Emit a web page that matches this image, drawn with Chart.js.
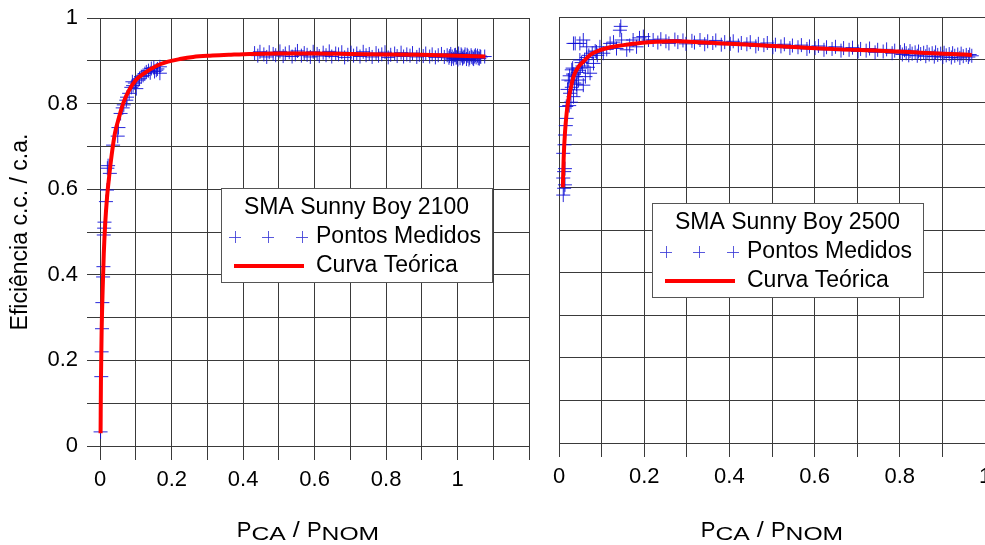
<!DOCTYPE html>
<html>
<head>
<meta charset="utf-8">
<script src="https://cdn.jsdelivr.net/npm/chart.js"></script>
<style>
  html, body { margin: 0; padding: 0; background: #fff; overflow: hidden; width: 985px; height: 545px; }
  canvas { position: absolute; top: 0; }
  #left-chart { left: 0; }
  #right-chart { left: 545px; }
</style>
</head>
<body>
<canvas id="left-chart" width="540" height="545"></canvas>
<canvas id="right-chart" width="460" height="545"></canvas>
<script>
// textos
const yTitle = "Eficiência c.c. / c.a.";
const leftTitle = "SMA Sunny Boy 2100";
const rightTitle = "SMA Sunny Boy 2500";
const pointsLabel = "Pontos Medidos";
const curveLabel = "Curva Teórica";

// ticks
const yTicks = [0, 0.1, 0.2, 0.3, 0.4, 0.5, 0.6, 0.7, 0.8, 0.9, 1];
const leftXTicks = [0, 0.1, 0.2, 0.3, 0.4, 0.5, 0.6, 0.7, 0.8, 0.9, 1, 1.1, 1.2];
const rightXTicks = [0, 0.1, 0.2, 0.3, 0.4, 0.5, 0.6, 0.7, 0.8, 0.9, 1];
const xLabelTicks = [0, 0.2, 0.4, 0.6, 0.8, 1];

// SMA Sunny Boy 2100 - pontos medidos
const leftPointsX = [
  0.001, 0.003, 0.004, 0.005, 0.006, 0.008, 0.009, 0.010, 0.011, 0.012,
  0.016, 0.019, 0.027, 0.020, 0.022, 0.036, 0.049, 0.051, 0.057, 0.063,
  0.066, 0.073, 0.075, 0.081, 0.087, 0.090, 0.092, 0.097, 0.101, 0.106,
  0.110, 0.115, 0.120, 0.125, 0.129, 0.135, 0.140, 0.143, 0.150, 0.152,
  0.157, 0.160, 0.167, 0.167,
  0.432, 0.441, 0.447, 0.458, 0.466, 0.473, 0.484, 0.491, 0.503, 0.512,
  0.518, 0.529, 0.537, 0.546, 0.552, 0.563, 0.571, 0.579, 0.588, 0.596,
  0.607, 0.613, 0.624, 0.632, 0.641, 0.648, 0.659, 0.667, 0.676, 0.684,
  0.693, 0.702, 0.709, 0.718, 0.727, 0.736, 0.744, 0.753, 0.761, 0.772,
  0.779, 0.788, 0.797, 0.806, 0.813, 0.824, 0.831, 0.842, 0.849, 0.858,
  0.867, 0.874, 0.886, 0.893, 0.904, 0.911, 0.922, 0.929, 0.938, 0.946,
  0.955, 0.963, 0.971, 0.976, 0.981, 0.985, 0.989, 0.994, 0.998, 1.003,
  1.007, 1.012, 1.016, 1.021, 1.025, 1.029, 1.034, 1.038, 1.043, 1.047,
  1.052, 1.056, 1.061, 1.065, 1.076,
  0.978, 0.983, 0.992, 0.996, 1.001, 1.010, 1.014, 1.019, 1.027, 1.032,
  1.040, 1.045, 1.050, 1.058, 1.063
];
const leftPointsY = [
  0.033, 0.162, 0.220, 0.274, 0.335, 0.395, 0.419, 0.493, 0.509, 0.523,
  0.571, 0.598, 0.637, 0.649, 0.655, 0.703, 0.724, 0.744, 0.777, 0.790,
  0.797, 0.808, 0.815, 0.824, 0.838, 0.851, 0.842, 0.848, 0.835, 0.855,
  0.858, 0.863, 0.866, 0.870, 0.874, 0.877, 0.872, 0.882, 0.884, 0.875,
  0.878, 0.881, 0.886, 0.871,
  0.918, 0.912, 0.921, 0.915, 0.909, 0.920, 0.916, 0.913, 0.922, 0.911,
  0.917, 0.920, 0.910, 0.915, 0.923, 0.912, 0.918, 0.914, 0.909, 0.921,
  0.916, 0.911, 0.919, 0.913, 0.922, 0.910, 0.917, 0.915, 0.920, 0.908,
  0.914, 0.919, 0.912, 0.917, 0.910, 0.921, 0.913, 0.916, 0.909, 0.918,
  0.912, 0.915, 0.920, 0.908, 0.914, 0.917, 0.911, 0.919, 0.910, 0.915,
  0.912, 0.918, 0.909, 0.914, 0.911, 0.917, 0.910, 0.915, 0.908, 0.913,
  0.916, 0.909, 0.913, 0.907, 0.916, 0.910, 0.905, 0.914, 0.909, 0.917,
  0.906, 0.912, 0.908, 0.915, 0.904, 0.911, 0.907, 0.913, 0.906, 0.910,
  0.908, 0.912, 0.905, 0.909, 0.910,
  0.911, 0.904, 0.913, 0.907, 0.903, 0.915, 0.905, 0.910, 0.914, 0.903,
  0.909, 0.904, 0.913, 0.906, 0.911
];

// SMA Sunny Boy 2100 - curva teórica
const leftCurveX = [
  0.001, 0.002, 0.004, 0.007, 0.010, 0.014, 0.019, 0.025, 0.032, 0.041,
  0.050, 0.064, 0.080, 0.100, 0.125, 0.157, 0.190, 0.223, 0.260, 0.307,
  0.360, 0.420, 0.500, 0.600, 0.700, 0.800, 0.900, 1.000, 1.078
];
const leftCurveY = [
  0.030, 0.150, 0.270, 0.370, 0.450, 0.520, 0.580, 0.630, 0.680, 0.730,
  0.760, 0.800, 0.830, 0.855, 0.872, 0.888, 0.898, 0.904, 0.909, 0.912,
  0.914, 0.916, 0.917, 0.917, 0.916, 0.915, 0.914, 0.912, 0.910
];

// SMA Sunny Boy 2500 - pontos medidos
const rightPointsX = [
  0.010, 0.012, 0.014, 0.010, 0.012, 0.014, 0.010, 0.013, 0.014, 0.016,
  0.018, 0.017, 0.020, 0.022, 0.025, 0.026, 0.028, 0.030, 0.030, 0.032,
  0.034, 0.034, 0.036, 0.038, 0.040, 0.042, 0.044, 0.046, 0.049, 0.049,
  0.050, 0.055, 0.057, 0.057, 0.060, 0.062, 0.065, 0.065, 0.070, 0.073,
  0.078, 0.081, 0.085, 0.090, 0.096, 0.104, 0.120, 0.135, 0.143, 0.145,
  0.147, 0.159, 0.174, 0.182, 0.198, 0.210,
  0.221, 0.232, 0.239, 0.251, 0.258, 0.272, 0.279, 0.291, 0.298, 0.312,
  0.318, 0.331, 0.342, 0.349, 0.361, 0.368, 0.381, 0.389, 0.402, 0.409,
  0.421, 0.428, 0.441, 0.449, 0.462, 0.468, 0.481, 0.489, 0.502, 0.508,
  0.521, 0.529, 0.542, 0.548, 0.561, 0.569, 0.582, 0.588, 0.601, 0.609,
  0.622, 0.628, 0.641, 0.649, 0.662, 0.668, 0.681, 0.689, 0.702, 0.708,
  0.721, 0.729, 0.742, 0.748, 0.761, 0.769, 0.782, 0.788, 0.801, 0.806,
  0.811, 0.815, 0.821, 0.824, 0.829, 0.836, 0.841, 0.844, 0.849, 0.856,
  0.861, 0.864, 0.869, 0.876, 0.881, 0.884, 0.889, 0.896, 0.901, 0.904,
  0.909, 0.916, 0.921, 0.924, 0.929, 0.936, 0.941, 0.944, 0.949, 0.956,
  0.961, 0.964, 0.969,
  0.024, 0.029, 0.033, 0.041, 0.047, 0.053, 0.068, 0.088, 0.112, 0.128,
  0.166, 0.189
];
const rightPointsY = [
  0.582, 0.598, 0.606, 0.622, 0.637, 0.644, 0.680, 0.700, 0.723, 0.745,
  0.762, 0.790, 0.830, 0.852, 0.862, 0.821, 0.800, 0.835, 0.876, 0.880,
  0.813, 0.938, 0.845, 0.938, 0.860, 0.829, 0.870, 0.852, 0.899, 0.938,
  0.880, 0.885, 0.840, 0.946, 0.900, 0.860, 0.905, 0.930, 0.910, 0.868,
  0.915, 0.891, 0.920, 0.910, 0.930, 0.915, 0.938, 0.926, 0.969, 0.978,
  0.946, 0.923, 0.946, 0.930, 0.954, 0.946,
  0.946, 0.940, 0.948, 0.943, 0.938, 0.947, 0.941, 0.945, 0.937, 0.944,
  0.940, 0.946, 0.936, 0.943, 0.939, 0.945, 0.935, 0.941, 0.937, 0.943,
  0.933, 0.939, 0.936, 0.941, 0.931, 0.937, 0.934, 0.939, 0.929, 0.935,
  0.931, 0.936, 0.927, 0.933, 0.929, 0.934, 0.925, 0.931, 0.927, 0.932,
  0.923, 0.929, 0.925, 0.930, 0.921, 0.927, 0.923, 0.928, 0.919, 0.925,
  0.921, 0.926, 0.917, 0.923, 0.919, 0.924, 0.915, 0.921, 0.918, 0.912,
  0.922, 0.915, 0.910, 0.920, 0.914, 0.917, 0.909, 0.919, 0.913, 0.916,
  0.908, 0.918, 0.912, 0.915, 0.907, 0.917, 0.911, 0.914, 0.906, 0.916,
  0.910, 0.913, 0.905, 0.915, 0.909, 0.912, 0.904, 0.914, 0.908, 0.911,
  0.906, 0.912, 0.909,
  0.792, 0.850, 0.866, 0.842, 0.875, 0.893, 0.882, 0.918, 0.924, 0.941,
  0.933, 0.951
];

// SMA Sunny Boy 2500 - curva teórica
const rightCurveX = [
  0.009, 0.011, 0.014, 0.018, 0.022, 0.028, 0.034, 0.045, 0.057, 0.075,
  0.096, 0.120, 0.151, 0.190, 0.229, 0.270, 0.308, 0.386, 0.450, 0.503,
  0.580, 0.660, 0.754, 0.850, 0.920, 0.969
];
const rightCurveY = [
  0.600, 0.670, 0.728, 0.775, 0.805, 0.835, 0.860, 0.882, 0.895, 0.912,
  0.922, 0.929, 0.934, 0.939, 0.942, 0.943, 0.942, 0.938, 0.935, 0.932,
  0.928, 0.924, 0.921, 0.916, 0.913, 0.911
];

const FONT = "'Liberation Sans', Arial, sans-serif";
const GRID = "#3a3a3a";

function toXY(xs, ys) {
  return xs.map((x, i) => ({ x: x, y: ys[i] }));
}

function fmt(v) {
  return String(Number(v.toFixed(1)));
}

// caixa de legenda + título do eixo x (PCA / PNOM)
const panelTextPlugin = {
  id: "panelText",
  afterDraw(chart, args, opts) {
    const ctx = chart.ctx;
    const b = opts.box;
    ctx.save();

    ctx.fillStyle = "#fff";
    ctx.fillRect(b.x, b.y, b.w, b.h);
    ctx.strokeStyle = "#555";
    ctx.lineWidth = 1;
    ctx.strokeRect(b.x + 0.5, b.y + 0.5, b.w, b.h);

    ctx.fillStyle = "#000";
    ctx.font = "23px " + FONT;
    ctx.textBaseline = "middle";
    ctx.textAlign = "center";
    ctx.fillText(opts.title, b.x + b.w / 2, b.y + 20);

    ctx.textAlign = "left";
    ctx.fillText(pointsLabel, b.x + 95, b.y + 49);
    ctx.fillText(curveLabel, b.x + 95, b.y + 78);

    ctx.strokeStyle = "rgba(60,60,215,0.85)";
    ctx.lineWidth = 1;
    [14, 47, 81].forEach((dx) => {
      const cx = b.x + dx, cy = b.y + 49;
      ctx.beginPath();
      ctx.moveTo(cx - 6, cy + 0.5);
      ctx.lineTo(cx + 6, cy + 0.5);
      ctx.moveTo(cx + 0.5, cy - 6);
      ctx.lineTo(cx + 0.5, cy + 6);
      ctx.stroke();
    });

    ctx.strokeStyle = "#ff0000";
    ctx.lineWidth = 4;
    ctx.beginPath();
    ctx.moveTo(b.x + 13, b.y + 78);
    ctx.lineTo(b.x + 83, b.y + 78);
    ctx.stroke();

    // título do eixo x com subscritos (mais largos, como no original)
    const parts = [
      ["P", 22, 0, 1], ["CA", 19, 3, 1.3], [" / ", 22, 0, 1.15], ["P", 22, 0, 1], ["NOM", 19, 3, 1.3]
    ];
    ctx.textBaseline = "alphabetic";
    let total = 0;
    parts.forEach((p) => {
      ctx.font = p[1] + "px " + FONT;
      total += ctx.measureText(p[0]).width * p[3];
    });
    const area = chart.chartArea;
    let x = (area.left + area.right) / 2 - total / 2;
    parts.forEach((p) => {
      ctx.font = p[1] + "px " + FONT;
      const w = ctx.measureText(p[0]).width;
      ctx.save();
      ctx.translate(x, 537 + p[2]);
      ctx.scale(p[3], 1);
      ctx.fillText(p[0], 0, 0);
      ctx.restore();
      x += w * p[3];
    });

    ctx.restore();
  },
};

function makeChart(id, cfg) {
  return new Chart(document.getElementById(id), {
    type: "scatter",
    data: {
      datasets: [
        {
          label: curveLabel,
          type: "line",
          data: toXY(cfg.curveX, cfg.curveY),
          borderColor: "#ff0000",
          borderWidth: 4,
          pointRadius: 0,
          cubicInterpolationMode: "monotone",
          fill: false,
          order: 0,
        },
        {
          label: pointsLabel,
          data: toXY(cfg.pointsX, cfg.pointsY),
          pointStyle: "cross",
          pointRadius: 7,
          pointBorderWidth: 1,
          borderColor: "rgba(15,15,215,0.9)",
          backgroundColor: "rgba(15,15,215,0.9)",
          clip: false,
          order: 1,
        },
      ],
    },
    options: {
      responsive: false,
      animation: false,
      layout: { padding: cfg.padding },
      scales: {
        x: {
          type: "linear",
          min: cfg.xMin,
          max: cfg.xMax,
          afterBuildTicks: (scale) => {
            scale.ticks = cfg.xTicks.map((v) => ({ value: v }));
          },
          afterFit: (scale) => {
            scale.height = cfg.xHeight;
          },
          border: { display: false },
          grid: { color: GRID, tickColor: GRID, tickLength: 14, lineWidth: 1 },
          ticks: {
            autoSkip: false,
            maxRotation: 0,
            padding: 7,
            color: "#000",
            font: { family: FONT, size: 22 },
            callback: (v) => (xLabelTicks.some((t) => Math.abs(t - v) < 1e-6) ? fmt(v) : ""),
          },
        },
        y: {
          type: "linear",
          min: 0,
          max: 1,
          afterBuildTicks: (scale) => {
            scale.ticks = yTicks.map((v) => ({ value: v }));
          },
          afterFit: (scale) => {
            scale.width = cfg.yWidth;
            // sem folga extra acima do "1"
            scale.paddingTop = 0;
            scale.paddingBottom = 0;
          },
          border: { display: false },
          grid: { color: GRID, drawTicks: false, lineWidth: 1 },
          title: {
            display: cfg.showY,
            text: yTitle,
            color: "#000",
            font: { family: FONT, size: 23 },
            padding: { top: 7, bottom: 0 },
          },
          ticks: {
            display: cfg.showY,
            autoSkip: false,
            padding: 9,
            color: "#000",
            font: { family: FONT, size: 22 },
            callback: (v) => (Math.round(v * 10) % 2 === 0 ? fmt(v) : ""),
          },
        },
      },
      plugins: {
        legend: { display: false },
        tooltip: { enabled: false },
        panelText: { title: cfg.title, box: cfg.box },
      },
    },
    plugins: [panelTextPlugin],
  });
}

makeChart("left-chart", {
  title: leftTitle,
  pointsX: leftPointsX, pointsY: leftPointsY,
  curveX: leftCurveX, curveY: leftCurveY,
  xMin: -0.037, xMax: 1.2, xTicks: leftXTicks,
  yWidth: 87, xHeight: 99, showY: true,
  padding: { top: 18, right: 11, left: 0, bottom: 0 },
  box: { x: 221, y: 188, w: 271, h: 94 },
});

makeChart("right-chart", {
  title: rightTitle,
  pointsX: rightPointsX, pointsY: rightPointsY,
  curveX: rightCurveX, curveY: rightCurveY,
  xMin: 0, xMax: 1, xTicks: rightXTicks,
  yWidth: 0, xHeight: 102, showY: false,
  padding: { top: 17, right: 20, left: 14, bottom: 0 },
  box: { x: 107, y: 203, w: 271, h: 94 },
});
</script>
</body>
</html>
